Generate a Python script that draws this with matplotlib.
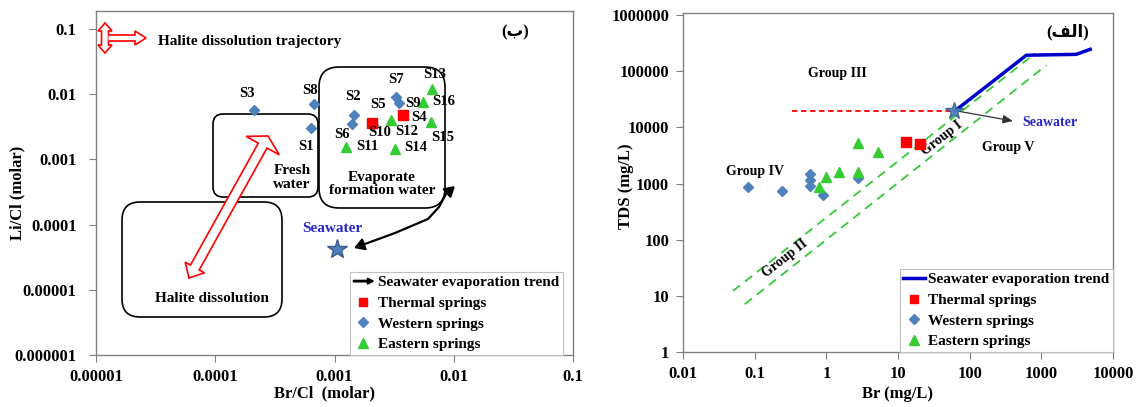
import numpy as np
import matplotlib
matplotlib.use('Agg')
import matplotlib.pyplot as plt
import matplotlib.patches as mpatches
from matplotlib.lines import Line2D
from matplotlib.path import Path
from matplotlib.transforms import Affine2D
from matplotlib.legend_handler import HandlerPatch

plt.rcParams['font.family'] = ['Liberation Serif', 'DejaVu Sans']
plt.rcParams['font.weight'] = 'bold'

# ---- left panel data (Li/Cl vs Br/Cl, molar) ----
west_names = ['S3', 'S8', 'S1', 'S2', 'S6', 'S10', 'S7', 'S9']
west_brcl = [2.13e-4, 6.67e-4, 6.3e-4, 1.45e-3, 1.39e-3, 2.1e-3, 3.3e-3, 3.45e-3]
west_licl = [5.8e-3, 7.1e-3, 3.06e-3, 4.8e-3, 3.5e-3, 3.4e-3, 9.1e-3, 7.4e-3]

thermal_names = ['S5', 'S4']
thermal_brcl = [2.05e-3, 3.72e-3]
thermal_licl = [3.66e-3, 4.8e-3]

east_names = ['S12', 'S11', 'S14', 'S13', 'S16', 'S15']
east_brcl = [2.96e-3, 1.26e-3, 3.19e-3, 6.53e-3, 5.48e-3, 6.4e-3]
east_licl = [4.06e-3, 1.57e-3, 1.46e-3, 0.0121, 7.65e-3, 3.79e-3]

sea_brcl = [1.04e-3]
sea_licl = [4.2e-5]

left_xticks = [1e-5, 1e-4, 1e-3, 1e-2, 1e-1]
left_xlabels = ['0.00001', '0.0001', '0.001', '0.01', '0.1']
left_yticks = [1e-6, 1e-5, 1e-4, 1e-3, 1e-2, 1e-1]
left_ylabels = ['0.000001', '0.00001', '0.0001', '0.001', '0.01', '0.1']

# ---- right panel data (TDS vs Br, mg/L) ----
west_br = [0.080, 0.239, 0.587, 0.587, 0.587, 0.89, 2.73]
west_tds = [863, 733, 1470, 1150, 899, 622, 1248]
east_br = [0.78, 0.98, 1.49, 2.73, 2.73, 5.2]
east_tds = [863, 1300, 1596, 1596, 5240, 3620]
thermal_br = [12.8, 20.0]
thermal_tds = [5450, 5020]
sea_br = [61.4]
sea_tds = [19400]
evap_br = [61.4, 618, 3070, 4810]
evap_tds = [19400, 193000, 200000, 246000]
halite_br = [0.33, 61.4]
halite_tds = [19400, 19400]
groupI_br = [0.0497, 824]
groupI_tds = [12.2, 209000]
groupII_br = [0.073, 1175]
groupII_tds = [7.1, 128000]

right_xticks = [0.01, 0.1, 1, 10, 100, 1000, 10000]
right_xlabels = ['0.01', '0.1', '1', '10', '100', '1000', '10000']
right_yticks = [1, 10, 100, 1000, 10000, 100000, 1000000]
right_ylabels = ['1', '10', '100', '1000', '10000', '100000', '1000000']

# label offsets in pixels (dx right, dy down)
label_off = {'S3': (-7, -16), 'S8': (-4, -14), 'S1': (-5, 19), 'S2': (-1, -19),
             'S6': (-10, 10), 'S5': (6, -18), 'S10': (7, 8), 'S7': (0, -18),
             'S9': (14, 1), 'S4': (16, 2), 'S12': (16, 12), 'S11': (21, 0),
             'S14': (21, -1), 'S13': (3, -14), 'S16': (21, 0), 'S15': (12, 16)}

RED = '#FF0000'
BLUE = '#4F81BD'
GREEN = '#33CC33'
GRAY = '#808080'

W, H = 1140, 407
fig = plt.figure(figsize=(W / 100, H / 100), dpi=100)
# pixel transform (x right, y down), for drawn decorations
pix = Affine2D().scale(1 / 100, -1 / 100).translate(0, H / 100) + fig.dpi_scale_trans


def style_axes(ax):
    for s in ax.spines.values():
        s.set_color(GRAY)
        s.set_linewidth(1)
    ax.minorticks_off()
    ax.tick_params(which='both', direction='out', length=5, color=GRAY, labelsize=12)
    ax.tick_params(axis='y', pad=9)
    ax.tick_params(axis='x', pad=5)
    ax.tick_params(which='minor', length=0)


def hollow_arrow(p0, p1, shw, h0w, h0l, h1w, h1l):
    p0 = np.array(p0, float)
    p1 = np.array(p1, float)
    u = (p1 - p0) / np.hypot(*(p1 - p0))
    n = np.array([-u[1], u[0]])
    b0 = p0 + u * h0l
    b1 = p1 - u * h1l
    return [p0, b0 + n * h0w, b0 + n * shw, b1 + n * shw, b1 + n * h1w, p1,
            b1 - n * h1w, b1 - n * shw, b0 - n * shw, b0 - n * h0w]


# ================= left panel =================
ax1 = fig.add_axes([96 / W, 1 - 355 / H, 477 / W, 344 / H])
ax1.set_xscale('log')
ax1.set_yscale('log')
ax1.set_xlim(1e-5, 1e-1)
ax1.set_ylim(1e-6, 0.19)
style_axes(ax1)
ax1.set_xticks(left_xticks, left_xlabels)
ax1.set_yticks(left_yticks, left_ylabels)
ax1.minorticks_off()

ax1.plot(west_brcl, west_licl, 'D', color=BLUE, ms=5.5, zorder=4)
ax1.plot(thermal_brcl, thermal_licl, 's', color=RED, ms=6.5, zorder=5)
ax1.plot(east_brcl, east_licl, '^', color=GREEN, ms=7, zorder=4)
ax1.plot(sea_brcl, sea_licl, '*', color=BLUE, mec='#385D8A', ms=15, zorder=4)

for names, xs, ys in [(west_names, west_brcl, west_licl),
                      (thermal_names, thermal_brcl, thermal_licl),
                      (east_names, east_brcl, east_licl)]:
    for nm, x, y in zip(names, xs, ys):
        dx, dy = label_off[nm]
        ax1.annotate(nm, (x, y), xytext=(dx, -dy), textcoords='offset pixels',
                     ha='center', va='center', fontsize=10.5, fontweight='bold', zorder=6)

ax1.annotate('Seawater', (sea_brcl[0], sea_licl[0]), xytext=(-4, 21), textcoords='offset pixels',
             ha='center', va='center', fontsize=11, fontweight='bold', color='#2626CC')

# rounded boxes
for (x0, y0, x1, y1, r) in [(213, 114, 318, 197, 10), (319, 67, 445, 208, 20), (122, 202, 282, 317, 18)]:
    box = mpatches.FancyBboxPatch((x0, y0), x1 - x0, y1 - y0,
                                  boxstyle='round,pad=0,rounding_size=%d' % r,
                                  fc='none', ec='black', lw=1.2, transform=pix, clip_on=False, zorder=2)
    ax1.add_patch(box)

ax1.text(292, 178, 'Fresh\nwater', transform=pix, ha='center', va='center', fontsize=11,
         fontweight='bold', linespacing=1.1, zorder=3)
ax1.text(382, 184, 'Evaporate\nformation water', transform=pix, ha='center', va='center',
         fontsize=11, fontweight='bold', linespacing=1.1, zorder=3)
ax1.text(212, 299, 'Halite dissolution', transform=pix, ha='center', va='center',
         fontsize=11, fontweight='bold', zorder=3)

# red hollow double arrow (halite dissolution trajectory)
ax1.add_patch(mpatches.Polygon(hollow_arrow((189, 278), (268, 136), 5, 11, 12, 19, 11),
                               closed=True, fc='white', ec=RED, lw=1.2, transform=pix,
                               clip_on=False, zorder=3))
# icon at top left
ax1.add_patch(mpatches.Polygon(hollow_arrow((105, 53), (105, 23), 3.5, 7, 8, 7, 8),
                               closed=True, fc='white', ec=RED, lw=1.2, transform=pix,
                               clip_on=False, zorder=3))
ax1.add_patch(mpatches.Polygon([(108.5, 35), (135, 35), (135, 31), (146, 38), (135, 45),
                                (135, 41), (108.5, 41)],
                               closed=False, fc='white', ec=RED, lw=1.2, transform=pix,
                               clip_on=False, zorder=3))
ax1.text(158, 42, 'Halite dissolution trajectory', transform=pix, ha='left', va='center',
         fontsize=11, fontweight='bold')
ax1.text(515, 32, '(\u0628)', transform=pix, ha='center', va='center', fontsize=12,
         fontweight='bold', family=['Liberation Serif', 'DejaVu Sans'])

# black evaporation trend arrow
evap_path = Path([(354, 248), (395, 233), (428, 219), (439, 207), (446, 194), (455, 186)])
ax1.add_patch(mpatches.FancyArrowPatch(path=evap_path, arrowstyle='<|-|>,head_length=0.5,head_width=0.3',
                                       mutation_scale=12, color='black', lw=1.6, transform=pix,
                                       clip_on=False, zorder=4))

ax1.set_xlabel('Br/Cl  (molar)', fontsize=12, fontweight='bold')
ax1.set_ylabel('Li/Cl (molar)', fontsize=12, fontweight='bold')
ax1.xaxis.set_label_coords(0.48, -0.088)
ax1.yaxis.set_label_coords(-0.148, 0.47)


def make_arrow(legend, orig_handle, xdescent, ydescent, width, height, fontsize):
    return mpatches.FancyArrow(-xdescent, height / 2 - ydescent, width, 0, width=height * 0.14,
                               head_width=height * 0.55, head_length=height * 0.55,
                               length_includes_head=True, color='black')


arrow_handle = mpatches.Patch(color='black')
h_therm = Line2D([], [], ls='none', marker='s', color=RED, ms=6)
h_west = Line2D([], [], ls='none', marker='D', color=BLUE, ms=5)
h_east = Line2D([], [], ls='none', marker='^', color=GREEN, ms=6.5)
leg1 = ax1.legend([arrow_handle, h_therm, h_west, h_east],
                  ['Seawater evaporation trend', 'Thermal springs', 'Western springs', 'Eastern springs'],
                  handler_map={arrow_handle: HandlerPatch(patch_func=make_arrow)},
                  loc='lower right', bbox_to_anchor=(0.979, 0.0), fontsize=11, frameon=True,
                  fancybox=False, edgecolor='#c0c0c0', framealpha=1, borderpad=0.25,
                  labelspacing=0.45, handlelength=1.3, handletextpad=0.3, borderaxespad=0)
leg1.get_frame().set_linewidth(0.8)
for t in leg1.get_texts():
    t.set_fontweight('bold')

# ================= right panel =================
ax2 = fig.add_axes([683 / W, 1 - 352 / H, 430 / W, 339 / H])
ax2.set_xscale('log')
ax2.set_yscale('log')
ax2.set_xlim(0.01, 10000)
ax2.set_ylim(1, 1.09e6)
style_axes(ax2)
ax2.tick_params(axis='y', pad=5)
ax2.set_xticks(right_xticks, right_xlabels)
ax2.set_yticks(right_yticks, right_ylabels)
ax2.minorticks_off()

ax2.plot(groupI_br, groupI_tds, '--', color=GREEN, lw=1.3, dashes=(5, 3.5), zorder=2)
ax2.plot(groupII_br, groupII_tds, '--', color=GREEN, lw=1.3, dashes=(5, 3.5), zorder=2)
ax2.plot(halite_br, halite_tds, '--', color=RED, lw=1.3, dashes=(3, 2), zorder=2)
ax2.plot(evap_br, evap_tds, '-', color='#0000CC', lw=2.5, zorder=3)
ax2.plot(west_br, west_tds, 'D', color=BLUE, ms=5.5, zorder=4)
ax2.plot(east_br, east_tds, '^', color=GREEN, ms=7, zorder=4)
ax2.plot(thermal_br, thermal_tds, 's', color=RED, ms=6.5, zorder=4)
ax2.plot(sea_br, sea_tds, '*', color=BLUE, mec='#385D8A', ms=13, alpha=0.9, zorder=5)

ax2.annotate('', xy=(1013, 121), xytext=(957, 111), xycoords=pix, textcoords=pix,
             arrowprops=dict(arrowstyle='-|>,head_length=0.6,head_width=0.25', color='#333333', lw=0.9,
                             shrinkA=0, shrinkB=0))
ax2.text(1022, 123, 'Seawater', transform=pix, ha='left', va='center', fontsize=10,
         fontweight='bold', color='#2626CC')
ax2.text(837, 73, 'Group III', transform=pix, ha='center', va='center', fontsize=10, fontweight='bold')
ax2.text(1008, 147, 'Group V', transform=pix, ha='center', va='center', fontsize=10, fontweight='bold')
ax2.text(755, 171, 'Group IV', transform=pix, ha='center', va='center', fontsize=10, fontweight='bold')
ax2.text(942, 138, 'Group I', transform=pix, ha='center', va='center', fontsize=10,
         fontweight='bold', rotation=38, rotation_mode='anchor')
ax2.text(785, 258, 'Group II', transform=pix, ha='center', va='center', fontsize=10,
         fontweight='bold', rotation=38, rotation_mode='anchor')
# visual order of "(الف)" using presentation forms
ax2.text(1068, 32, '(\uFED2\uFEDF\uFE8D)', transform=pix, ha='center', va='center', fontsize=12,
         fontweight='bold', family=['Liberation Serif', 'DejaVu Sans'])

h_line = Line2D([], [], color='#0000CC', lw=2.5)
leg2 = ax2.legend([h_line, h_therm, h_west, h_east],
                  ['Seawater evaporation trend', 'Thermal springs', 'Western springs', 'Eastern springs'],
                  loc='lower right', bbox_to_anchor=(1.0, 0.0), fontsize=11, frameon=True,
                  fancybox=False, edgecolor='#c0c0c0', framealpha=1, borderpad=0.25,
                  labelspacing=0.45, handlelength=1.4, handletextpad=0.2, borderaxespad=0)
leg2.get_frame().set_linewidth(0.8)
for t in leg2.get_texts():
    t.set_fontweight('bold')

ax2.set_xlabel('Br (mg/L)', fontsize=12, fontweight='bold')
ax2.set_ylabel('TDS (mg/L)', fontsize=12, fontweight='bold')
ax2.xaxis.set_label_coords(0.5, -0.1)
ax2.yaxis.set_label_coords(-0.115, 0.49)

fig.savefig('out.png', dpi=100)
